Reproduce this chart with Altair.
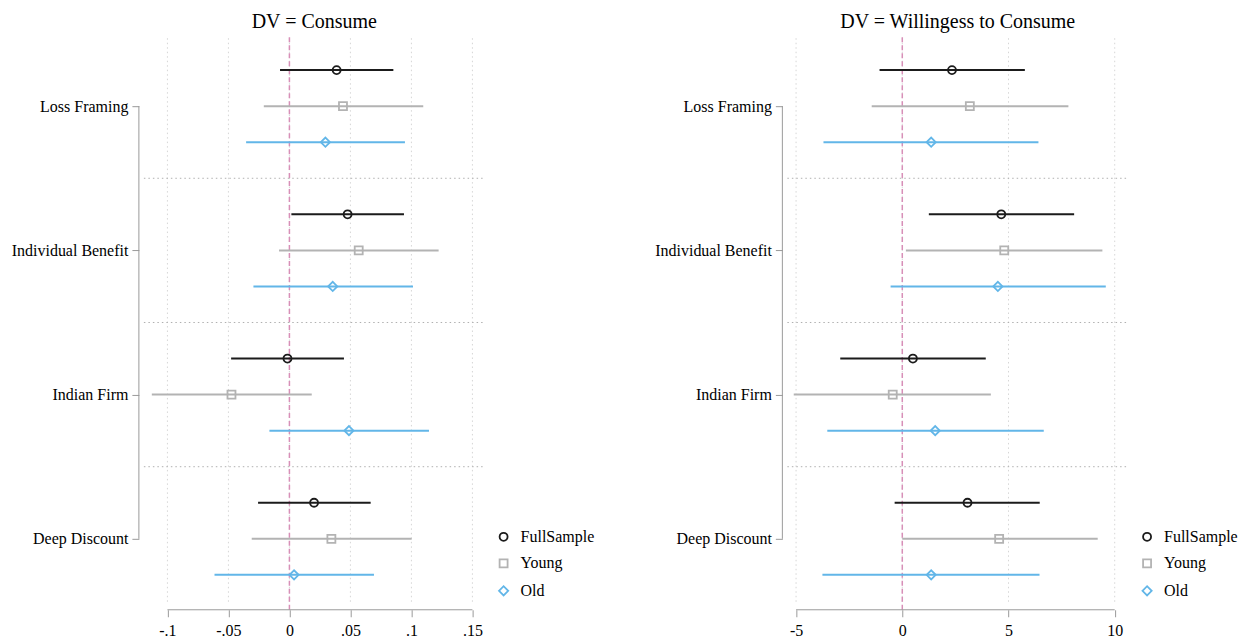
import altair as alt
import pandas as pd

# ---------------- data ----------------
CATEGORIES = ["Loss Framing", "Individual Benefit", "Indian Firm", "Deep Discount"]
SERIES = ["FullSample", "Young", "Old"]

# DV = Consume
consume_full_est = [0.0387, 0.0477, -0.0016, 0.0202]
consume_full_lo = [-0.0077, 0.0016, -0.0478, -0.0257]
consume_full_hi = [0.0852, 0.0939, 0.0447, 0.0666]
consume_young_est = [0.0439, 0.0568, -0.0475, 0.0344]
consume_young_lo = [-0.0210, -0.0085, -0.1128, -0.0309]
consume_young_hi = [0.1097, 0.1223, 0.0183, 0.1002]
consume_old_est = [0.0295, 0.0355, 0.0488, 0.0038]
consume_old_lo = [-0.0355, -0.0295, -0.0164, -0.0614]
consume_old_hi = [0.0947, 0.1013, 0.1144, 0.0693]

# DV = Willingess to Consume
willing_full_est = [2.34, 4.66, 0.50, 3.07]
willing_full_lo = [-1.07, 1.25, -2.92, -0.36]
willing_full_hi = [5.77, 8.09, 3.93, 6.47]
willing_young_est = [3.18, 4.80, -0.45, 4.56]
willing_young_lo = [-1.44, 0.17, -5.11, 0.00]
willing_young_hi = [7.82, 9.42, 4.17, 9.20]
willing_old_est = [1.36, 4.50, 1.55, 1.36]
willing_old_lo = [-3.71, -0.55, -3.53, -3.76]
willing_old_hi = [6.41, 9.58, 6.66, 6.46]

consume_ticks = [-0.1, -0.05, 0, 0.05, 0.1, 0.15]
consume_tick_labels = ["-.1", "-.05", "0", ".05", ".1", ".15"]
willing_ticks = [-5, 0, 5, 10]
willing_tick_labels = ["-5", "0", "5", "10"]

# ---------------- style / layout ----------------
FONT = "Liberation Serif"
COLORS = ["#1b1b1b", "#b3b3b3", "#62b6e8"]
SHAPES = ["circle", "square", "M-1.15,0L0,-1.15L1.15,0L0,1.15Z"]
AXIS_GRAY = "#9a9a9a"
W, H = 341, 567
ROW_STEP = 0.25
Y_DOMAIN = [-0.4711, 3.4573]


def label_expr(values, labels):
    parts = [f"abs(datum.value - ({v})) < 1e-9 ? '{lab}'" for v, lab in zip(values, labels)]
    return " : ".join(parts) + " : ''"


def build_df(ests, los, his):
    rows = []
    for si, s in enumerate(SERIES):
        for ci, c in enumerate(CATEGORIES):
            rows.append({
                "series": s,
                "category": c,
                "est": ests[si][ci],
                "lo": los[si][ci],
                "hi": his[si][ci],
                "ypos": ci + (si - 1) * ROW_STEP,
            })
    return pd.DataFrame(rows)


def panel(title, df, domain, ticks, tick_labels):
    xs = alt.Scale(domain=domain, nice=False, zero=False)
    ys = alt.Scale(domain=Y_DOMAIN, reverse=True, nice=False, zero=False)
    xaxis = alt.Axis(values=ticks, labelExpr=label_expr(ticks, tick_labels), domain=False,
                     grid=False, tickSize=7, tickColor=AXIS_GRAY, tickWidth=1, offset=5,
                     labelFont=FONT, labelFontSize=16, labelColor="black", labelPadding=6,
                     labelFlush=False, labelOverlap=False, title=None)
    idx = list(range(len(CATEGORIES)))
    yaxis = alt.Axis(values=idx, labelExpr=label_expr(idx, CATEGORIES), domain=False,
                     grid=False, tickSize=7, tickColor=AXIS_GRAY, tickWidth=1, offset=5,
                     labelFont=FONT, labelFontSize=16, labelColor="black", labelPadding=4,
                     labelOverlap=False, title=None)

    def X(f):
        return alt.X(f, scale=xs, axis=xaxis)

    def Y(f):
        return alt.Y(f, scale=ys, axis=yaxis)

    cs = alt.Scale(domain=SERIES, range=COLORS)
    ss = alt.Scale(domain=SERIES, range=SHAPES)
    leg = alt.Legend(title=None, orient="none", legendX=352, legendY=491, labelFont=FONT,
                     labelFontSize=16, labelColor="black", symbolSize=64, symbolStrokeWidth=1.8,
                     rowPadding=10.5, labelOffset=9, padding=0)

    vgrid = alt.Chart(pd.DataFrame({"v": ticks})).mark_rule(
        color="#d6d6d6", strokeDash=[1.5, 3], strokeWidth=1
    ).encode(x=X("v:Q"), y=alt.value(0), y2=alt.value(H))

    seps = [i + 0.5 for i in range(len(CATEGORIES) - 1)]
    hsep = alt.Chart(pd.DataFrame({"s": seps})).mark_rule(
        color="#b0b0b0", strokeDash=[1.5, 3], strokeWidth=1
    ).encode(y=Y("s:Q"), x=alt.value(0), x2=alt.value(W))

    zero = alt.Chart(pd.DataFrame({"z": [0]})).mark_rule(
        color="#d88fb8", strokeDash=[5, 3], strokeWidth=1.5
    ).encode(x=X("z:Q"), y=alt.value(-1), y2=alt.value(H + 5))

    xline = alt.Chart(pd.DataFrame({"a": [ticks[0]], "b": [ticks[-1]]})).mark_rule(
        color=AXIS_GRAY, strokeWidth=1
    ).encode(x=X("a:Q"), x2="b:Q", y=alt.value(H + 5))

    yline = alt.Chart(pd.DataFrame({"a": [idx[0]], "b": [idx[-1]]})).mark_rule(
        color=AXIS_GRAY, strokeWidth=1
    ).encode(y=Y("a:Q"), y2="b:Q", x=alt.value(-5))

    ci = alt.Chart(df).mark_rule(strokeWidth=2).encode(
        x=X("lo:Q"), x2="hi:Q", y=Y("ypos:Q"),
        color=alt.Color("series:N", scale=cs, legend=leg),
    )
    pts = alt.Chart(df).mark_point(filled=False, size=64, strokeWidth=1.8, opacity=1).encode(
        x=X("est:Q"), y=Y("ypos:Q"),
        color=alt.Color("series:N", scale=cs, legend=leg),
        shape=alt.Shape("series:N", scale=ss, legend=leg),
    )

    return alt.layer(vgrid, hsep, zero, xline, yline, ci, pts).properties(
        width=W, height=H,
        title=alt.TitleParams(title, font=FONT, fontSize=20, fontWeight="normal",
                              color="black", offset=4, anchor="middle"),
    )


df_c = build_df([consume_full_est, consume_young_est, consume_old_est],
                [consume_full_lo, consume_young_lo, consume_old_lo],
                [consume_full_hi, consume_young_hi, consume_old_hi])
df_w = build_df([willing_full_est, willing_young_est, willing_old_est],
                [willing_full_lo, willing_young_lo, willing_old_lo],
                [willing_full_hi, willing_young_hi, willing_old_hi])

left = panel("DV = Consume", df_c, [-0.1193, 0.1600], consume_ticks, consume_tick_labels)
right = panel("DV = Willingess to Consume", df_w, [-5.41, 10.63], willing_ticks, willing_tick_labels)

chart = alt.hconcat(left, right, spacing=303, bounds="flush").resolve_scale(
    x="independent", y="shared", color="independent", shape="independent"
).properties(
    padding={"left": 10, "top": 11, "right": 0, "bottom": 0},
    background="white",
).configure_view(stroke="transparent")

chart.save("out.html", embed_options={"renderer": "svg", "actions": False})
